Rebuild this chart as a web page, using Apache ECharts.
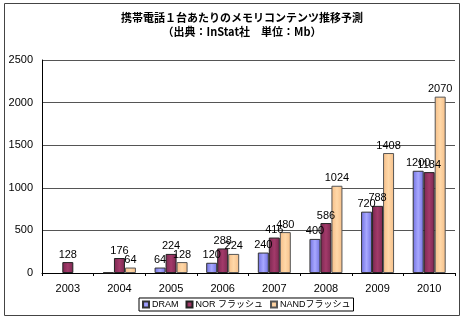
<!DOCTYPE html>
<html><head><meta charset="utf-8">
<script src="https://cdn.jsdelivr.net/npm/echarts@6/dist/echarts.min.js"></script>
<style>html,body{margin:0;padding:0;background:#fff}#c{width:465px;height:325px}</style>
</head><body><div id="c"></div>
<script>
var categories = ['2003','2004','2005','2006','2007','2008','2009','2010'];
var dram = [null, 8, 64, 120, 240, 400, 720, 1200];
var nor = [128, 176, 224, 288, 416, 586, 788, 1184];
var nand = [null, 64, 128, 224, 480, 1024, 1408, 2070];
var seriesNames = ['DRAM', 'NOR フラッシュ', 'NANDフラッシュ'];
var yTicks = [0, 500, 1000, 1500, 2000, 2500];

var chart = echarts.init(document.getElementById('c'), null, {renderer:'canvas'});
function grad(c1, c2){
  return new echarts.graphic.LinearGradient(0,0,1,0,[{offset:0,color:c1},{offset:0.5,color:c2},{offset:1,color:c1}]);
}
var lbl = {show:true, position:'top', distance:2, color:'#000', fontSize:11, fontFamily:'Liberation Sans, Arial, sans-serif',
  formatter:function(p){return p.value>=20?p.value:'';}};
var bw = 11;
chart.setOption({
  animation:false,
  textStyle:{fontFamily:'Liberation Sans, Arial, sans-serif'},
  title:{text:'携帯電話１台あたりのメモリコンテンツ推移予測\n（出典：InStat社　単位：Mb）', left:237, textAlign:'center', top:6,
    textStyle:{fontSize:11, fontWeight:'bold', lineHeight:14, color:'#000', fontFamily:'Noto Sans CJK JP'}},
  graphic:[{type:'rect', shape:{x:4.5,y:3.5,width:455,height:312}, style:{fill:null, stroke:'#444', lineWidth:1}, z:-1}],
  grid:{left:42, right:10, top:60, bottom:52, containLabel:false},
  legend:{bottom:14, left:139, itemWidth:6, itemHeight:6, itemGap:7, padding:[2,3],
    borderColor:'#000', borderWidth:1, textStyle:{fontSize:9, color:'#000', padding:[0,0,0,-2], fontFamily:'Liberation Sans, Noto Sans CJK JP'},
    data:seriesNames.map(function(n){return {name:n, icon:'rect'};})},
  xAxis:{type:'category', data:categories, axisLine:{lineStyle:{color:'#000'}}, axisTick:{show:true, length:3, lineStyle:{color:'#000'}},
    axisLabel:{color:'#000', fontSize:11, margin:10}},
  yAxis:{type:'value', min:0, max:2500, interval:500, axisLine:{show:true, lineStyle:{color:'#000'}}, axisTick:{show:false},
    axisLabel:{color:'#000', fontSize:11, margin:9, formatter:function(v){return yTicks.indexOf(v)>=0?v:'';}},
    splitLine:{lineStyle:{color:'#555'}}},
  series:[
    {name:seriesNames[0], type:'bar', data:dram, barWidth:bw, barGap:'0%', label:lbl,
      itemStyle:{color:grad('#7070e0','#a8a8ff'), borderColor:'#333', borderWidth:1}},
    {name:seriesNames[1], type:'bar', data:nor, barWidth:bw, label:lbl,
      itemStyle:{color:grad('#7a2850','#a33a6a'), borderColor:'#222', borderWidth:1}},
    {name:seriesNames[2], type:'bar', data:nand, barWidth:bw, label:lbl,
      itemStyle:{color:grad('#f5be88','#ffd8a8'), borderColor:'#555', borderWidth:1}}
  ]
});
</script></body></html>
